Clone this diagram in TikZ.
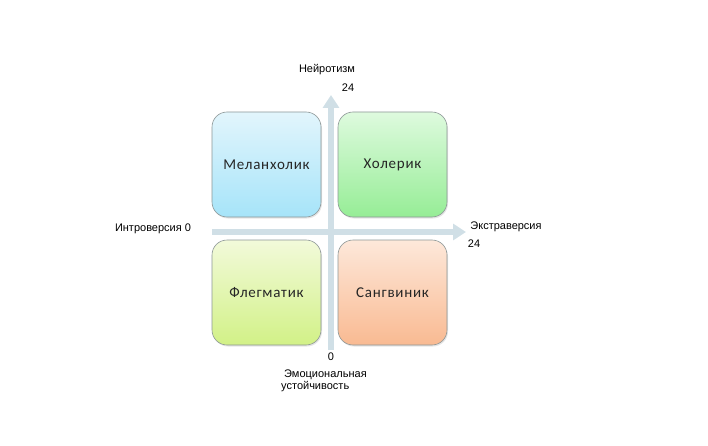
\documentclass[tikz,border=0pt]{standalone}
\usepackage{fontspec}
\setmainfont{Liberation Sans}
\newfontfamily\boxfont[LetterSpace=5]{Carlito}
\usetikzlibrary{arrows.meta, shadows}

\definecolor{axisblue}{RGB}{208,223,230}
\definecolor{boxline}{RGB}{140,150,150}
\definecolor{melTop}{RGB}{226,245,252}
\definecolor{melBot}{RGB}{166,228,249}
\definecolor{cholTop}{RGB}{222,250,222}
\definecolor{cholBot}{RGB}{150,237,150}
\definecolor{phlTop}{RGB}{242,250,218}
\definecolor{phlBot}{RGB}{210,241,135}
\definecolor{sanTop}{RGB}{253,232,218}
\definecolor{sanBot}{RGB}{249,186,146}

\tikzset{
  typebox/.style={draw=boxline, line width=0.6pt, rounded corners=15pt,
    minimum width=109pt, minimum height=105pt,
    font=\boxfont\fontsize{15}{17}\selectfont, text=black!85,
    drop shadow={opacity=0.2, shadow xshift=1pt, shadow yshift=-1.5pt}},
  axisline/.style={axisblue, line width=5.5pt,
    -{Triangle[width=16pt, length=13pt]}},
  axislbl/.style={font=\fontsize{11}{12.5}\selectfont, inner sep=0pt}
}

\begin{document}
\begin{tikzpicture}[x=1pt, y=1pt]
    \useasboundingbox (0,0) rectangle (708,445);
    % axes
    \coordinate (vlow) at (331,95);
    \coordinate (vtop) at (331,350);
    \coordinate (hleft) at (212,213);
    \coordinate (hright) at (466,213);
    \draw[axisline] (vlow) -- (vtop);
    \draw[axisline] (hleft) -- (hright);

    % temperament boxes
    \node[typebox, top color=melTop, bottom color=melBot] (mel) at (266.5,280.5) {Меланхолик};
    \node[typebox, top color=cholTop, bottom color=cholBot] (chol) at (392.5,280.5) {Холерик};
    \node[typebox, top color=phlTop, bottom color=phlBot] (phl) at (266.5,152.5) {Флегматик};
    \node[typebox, top color=sanTop, bottom color=sanBot] (san) at (392.5,152.5) {Сангвиник};

    % axis labels
    \node[axislbl] (neuro) at (327,375) {Нейротизм};
    \node[axislbl] (neuromax) at (348,357) {24};
    \node[axislbl] (intro) at (153,216) {Интроверсия 0};
    \node[axislbl] (extra) at (506,218) {Экстраверсия};
    \node[axislbl] (extramax) at (474,201) {24};
    \node[axislbl] (stabzero) at (331,88) {0};
    \node[axislbl, anchor=west, align=left] (stab) at (281,64)
        {\hspace*{3pt}Эмоциональная\\устойчивость};
\end{tikzpicture}
\end{document}
